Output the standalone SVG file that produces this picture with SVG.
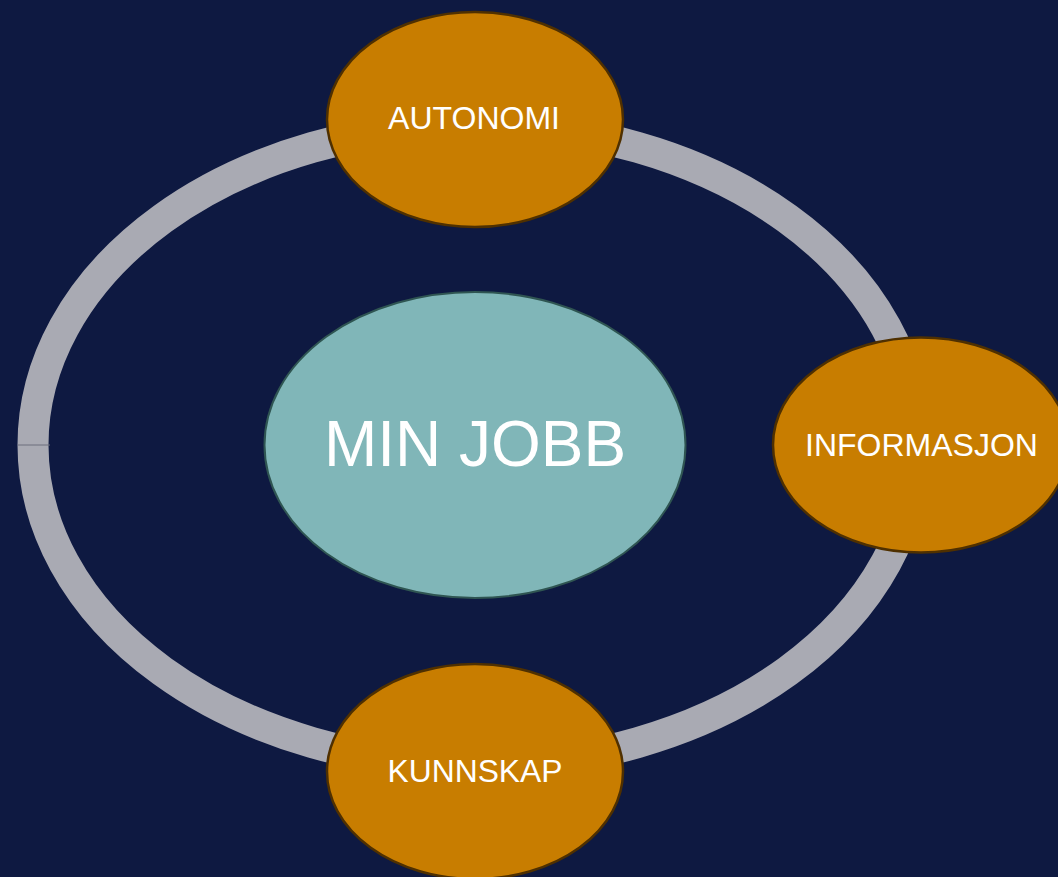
<svg xmlns="http://www.w3.org/2000/svg" width="1058" height="877" viewBox="0 0 1058 877">
<style>
.sat{fill:#c87d00;stroke:#4f3000;stroke-width:2.5}
.lbl{font-family:"Liberation Sans",Arial,sans-serif;fill:#ffffff;text-anchor:middle}
</style>
<rect x="0" y="0" width="1058" height="877" fill="#0e1941"/>
<g id="connectors">
<ellipse cx="475" cy="445" rx="442" ry="320" fill="none" stroke="#a9aab3" stroke-width="31"/>
<line x1="18" y1="445" x2="50" y2="445" stroke="#6c6f7c" stroke-width="1"/>
</g>
<g id="center">
<ellipse cx="475" cy="445" rx="210.5" ry="153" fill="#80b6b8" stroke="#2f5552" stroke-width="2"/>
<text class="lbl" x="475" y="466" font-size="64">MIN JOBB</text>
</g>
<g id="autonomi">
<ellipse class="sat" cx="475" cy="119.5" rx="148" ry="107.5"/>
<text class="lbl" x="474" y="129" font-size="32">AUTONOMI</text>
</g>
<g id="informasjon">
<ellipse class="sat" cx="921" cy="445" rx="148" ry="107.5"/>
<text class="lbl" x="921.5" y="456" font-size="32">INFORMASJON</text>
</g>
<g id="kunnskap">
<ellipse class="sat" cx="475" cy="771.5" rx="148" ry="107.5"/>
<text class="lbl" x="475" y="782" font-size="31.8">KUNNSKAP</text>
</g>
</svg>
